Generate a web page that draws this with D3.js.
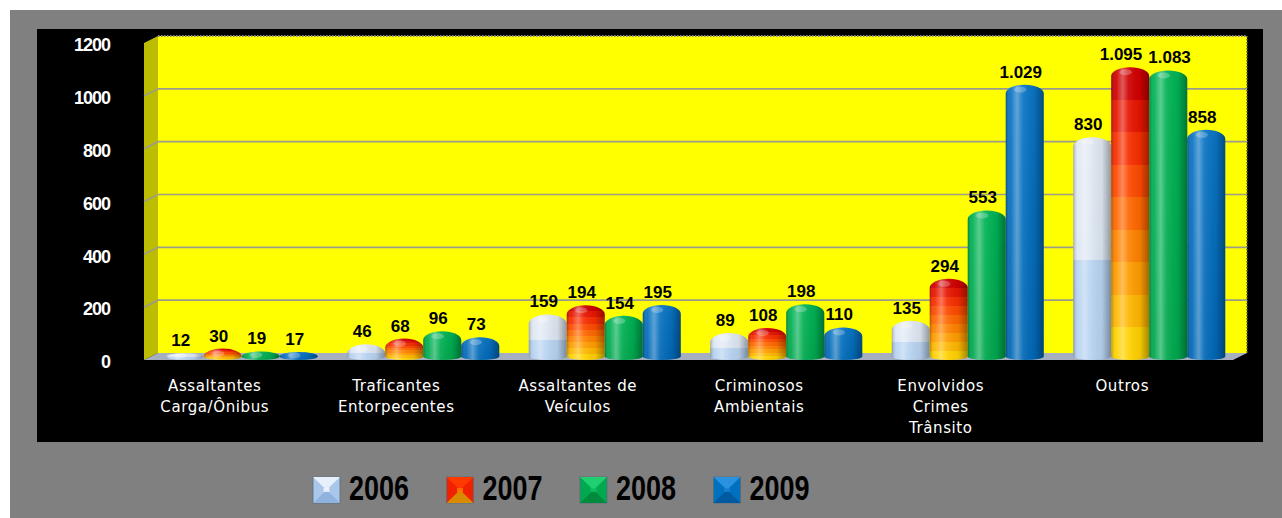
<!DOCTYPE html>
<html>
<head>
<meta charset="utf-8">
<script src="https://cdn.jsdelivr.net/npm/d3@7/dist/d3.min.js"></script>
<style>
  html, body { margin: 0; padding: 0; background: #ffffff; }
  svg { display: block; }
</style>
</head>
<body>
<svg id="chart" width="1282" height="518"></svg>
<script>
// Categories (line breaks mark the wrapped axis labels)
const categories = [
  "Assaltantes\nCarga/Ônibus",
  "Traficantes\nEntorpecentes",
  "Assaltantes de\nVeículos",
  "Criminosos\nAmbientais",
  "Envolvidos\nCrimes\nTrânsito",
  "Outros"
];
const years = ["2006", "2007", "2008", "2009"];
const values2006 = [12, 46, 159, 89, 135, 830];
const values2007 = [30, 68, 194, 108, 294, 1095];
const values2008 = [19, 96, 154, 198, 553, 1083];
const values2009 = [17, 73, 195, 110, 1029, 858];
const yTicks = [0, 200, 400, 600, 800, 1000, 1200];

const seriesValues = [values2006, values2007, values2008, values2009];

const svg = d3.select("#chart");
const W = 1282, H = 518;

// Frame: grey page panel with the black chart panel on top
svg.append("rect").attr("x", 0).attr("y", 0).attr("width", W).attr("height", H).attr("fill", "#ffffff");
svg.append("rect").attr("x", 10).attr("y", 10).attr("width", W - 10).attr("height", H - 10).attr("fill", "#808080");
svg.append("rect").attr("x", 37).attr("y", 29).attr("width", 1226).attr("height", 413).attr("fill", "#000000");

// 3D box geometry: back wall and a depth offset toward the viewer
const back = { left: 158, right: 1247, top: 36, bottom: 353 };
const depth = { dx: -14, dy: 7 };

const yBack = d3.scaleLinear().domain([0, 1200]).range([back.bottom, back.top]);
const yMid = d3.scaleLinear().domain([0, 1200]).range([back.bottom + depth.dy / 2, back.top + depth.dy / 2]);
const yFront = d3.scaleLinear().domain([0, 1200]).range([back.bottom + depth.dy, back.top + depth.dy]);

const x0 = d3.scaleBand()
  .domain(d3.range(categories.length))
  .range([back.left + depth.dx / 2, back.right + depth.dx / 2])
  .paddingInner(0.1625)
  .paddingOuter(0.08125);
const x1 = d3.scaleBand().domain(d3.range(years.length)).range([0, x0.bandwidth()]).padding(0);

const defs = svg.append("defs");

// Vertical colour ramps per series
function vGrad(id, stops) {
  const g = defs.append("linearGradient").attr("id", id)
    .attr("x1", 0).attr("y1", 0).attr("x2", 0).attr("y2", 1);
  stops.forEach(s => g.append("stop").attr("offset", s[0]).attr("stop-color", s[1]));
}
vGrad("fill2006", [[0, "#e2e9f2"], [0.55, "#dde7f3"], [0.55, "#bad4f1"], [1, "#b6d2f1"]]);
// banded red→orange→yellow ramp
(function () {
  const bands = 9;
  const ramp = d3.interpolateRgbBasis(["#d00000", "#ff2a00", "#ff6a00", "#ff9c00", "#ffd200"]);
  const stops = [];
  for (let i = 0; i < bands; i++) {
    const c = ramp(i / (bands - 1));
    stops.push([i / bands, c], [(i + 1) / bands, c]);
  }
  vGrad("fill2007", stops);
})();
vGrad("fill2008", [[0, "#00b455"], [1, "#00a84e"]]);
vGrad("fill2009", [[0, "#0a74c4"], [1, "#0068b6"]]);

// Horizontal cylinder shading overlay
const shade = defs.append("linearGradient").attr("id", "cylShade")
  .attr("x1", 0).attr("y1", 0).attr("x2", 1).attr("y2", 0);
[[0, "#000", 0.28], [0.12, "#fff", 0.05], [0.3, "#fff", 0.35], [0.45, "#fff", 0.08],
 [0.75, "#000", 0.05], [1, "#000", 0.35]].forEach(s =>
  shade.append("stop").attr("offset", s[0]).attr("stop-color", s[1]).attr("stop-opacity", s[2]));

// Side wall and floor
svg.append("polygon")
  .attr("points", [[back.left + depth.dx, back.top + depth.dy], [back.left, back.top],
                   [back.left, back.bottom], [back.left + depth.dx, back.bottom + depth.dy]].join(" "))
  .attr("fill", "#bcbc00");
svg.append("rect")
  .attr("x", back.left).attr("y", back.top)
  .attr("width", back.right - back.left).attr("height", back.bottom - back.top)
  .attr("fill", "#ffff00");
svg.append("line")
  .attr("x1", back.left).attr("x2", back.right).attr("y1", back.top).attr("y2", back.top)
  .attr("stroke", "#8a8a8a").attr("stroke-width", 2).attr("stroke-dasharray", "1.5 1.5");
svg.append("line")
  .attr("x1", back.right).attr("x2", back.right).attr("y1", back.top).attr("y2", back.bottom)
  .attr("stroke", "#6f6f00").attr("stroke-width", 1.5).attr("stroke-dasharray", "1.5 1.5");

// Gridlines across back wall and side wall
const grid = svg.append("g");
yTicks.filter(t => t > 0 && t < 1200).forEach(t => {
  grid.append("polyline")
    .attr("points", [[back.left + depth.dx, yFront(t)], [back.left, yBack(t)], [back.right, yBack(t)]].join(" "))
    .attr("fill", "none").attr("stroke", "#9c9c8c").attr("stroke-width", 1.6);
});

svg.append("polygon")
  .attr("points", [[back.left, back.bottom], [back.right, back.bottom],
                   [back.right + depth.dx, back.bottom + depth.dy], [back.left + depth.dx, back.bottom + depth.dy]].join(" "))
  .attr("fill", "#a6afc0");

// Y axis labels at the front plane
const yAxis = d3.axisLeft(yFront).tickValues(yTicks).tickSize(0).tickPadding(0).tickFormat(d3.format("d"));
const yAxisG = svg.append("g").attr("transform", "translate(110,2)").call(yAxis);
yAxisG.select(".domain").remove();
yAxisG.selectAll("text")
  .attr("fill", "#ffffff")
  .attr("font-family", "'Liberation Sans', Arial, sans-serif")
  .attr("font-weight", "bold")
  .attr("font-size", 18)
  .attr("letter-spacing", -1);

// Cylinder outline path
function cylinder(x, w, yt, yb) {
  const rc = Math.min(9, Math.max(yb - yt, 3));
  const side = Math.max(yb, yt + rc);
  const rb = 3.5;
  return `M${x},${side} L${x},${yt + rc} A${w / 2},${rc} 0 0 1 ${x + w},${yt + rc} ` +
         `L${x + w},${side} A${w / 2},${rb} 0 0 1 ${x},${side} Z`;
}

const ptBR = d3.formatLocale({ decimal: ",", thousands: ".", grouping: [3], currency: ["R$", ""] });
const fmt = ptBR.format(",d");

const bars = [];
categories.forEach((c, ci) => {
  years.forEach((y, si) => {
    bars.push({ ci, si, value: seriesValues[si][ci] });
  });
});

const barG = svg.append("g");
bars.forEach(b => {
  const x = x0(b.ci) + x1(b.si);
  const w = x1.bandwidth();
  const yt = yMid(b.value), yb = yMid(0);
  const d = cylinder(x, w, yt, yb);
  barG.append("path").attr("d", d).attr("fill", `url(#fill${years[b.si]})`);
  barG.append("path").attr("d", d).attr("fill", "url(#cylShade)");
  barG.append("ellipse")
    .attr("cx", x + w * 0.38).attr("cy", yt + Math.min(5, (yb - yt) / 2 + 1))
    .attr("rx", w * 0.16).attr("ry", Math.min(3, (yb - yt) / 2 + 1))
    .attr("fill", "#ffffff").attr("opacity", 0.25);
});

// Value labels, nudged apart where neighbours in a group collide
const labelG = svg.append("g");
categories.forEach((c, ci) => {
  const items = bars.filter(b => b.ci === ci).map(b => {
    const cx = x0(b.ci) + x1(b.si) + x1.bandwidth() / 2 - 4;
    const y = yMid(b.value) - 7;
    const node = labelG.append("text")
      .attr("x", cx).attr("y", y)
      .attr("text-anchor", "middle")
      .attr("font-family", "'Liberation Sans', Arial, sans-serif")
      .attr("font-weight", "bold")
      .attr("font-size", 17)
      .attr("fill", "#000000")
      .text(fmt(b.value));
    const w = node.node().getComputedTextLength();
    return { node, cx, y, w };
  });
  for (let pass = 0; pass < 3; pass++) {
    for (let i = 0; i < items.length - 1; i++) {
      const a = items[i], b = items[i + 1];
      if (Math.abs(a.y - b.y) > 16) continue;
      const gap = (b.cx - b.w / 2) - (a.cx + a.w / 2);
      if (gap < 6) {
        const push = (6 - gap) / 2;
        a.cx -= push; b.cx += push;
      }
    }
  }
  items.forEach(it => it.node.attr("x", it.cx));
});

// Category labels
const catG = svg.append("g");
categories.forEach((c, ci) => {
  const cx = x0(ci) + x0.bandwidth() / 2 - 27;
  const t = catG.append("text")
    .attr("text-anchor", "middle")
    .attr("font-family", "'DejaVu Sans', Verdana, sans-serif")
    .attr("font-size", 15)
    .attr("letter-spacing", 0.6)
    .attr("fill", "#ffffff");
  c.split("\n").forEach((line, li) => {
    t.append("tspan").attr("x", cx).attr("y", 391 + li * 21).text(line);
  });
});

// Legend
const swatchColors = {
  "2006": { top: "#e6f0fb", side: "#a9c7ea", bottom: "#8fb3de", center: "#f4f8fd" },
  "2007": { top: "#ff3a00", side: "#f02000", bottom: "#d88a00", center: "#ff7a00" },
  "2008": { top: "#20d070", side: "#00a850", bottom: "#008a3e", center: "#10c060" },
  "2009": { top: "#2a90e0", side: "#0070c0", bottom: "#005aa0", center: "#1a80d0" }
};
const legend = svg.append("g");
years.forEach((y, i) => {
  const lx = 313 + i * 133.5, ly = 477, s = 27, sh = 26;
  const col = swatchColors[y];
  const g = legend.append("g").attr("transform", `translate(${lx},${ly})`);
  const cxm = s / 2, cym = sh / 2;
  g.append("rect").attr("width", s).attr("height", sh).attr("fill", col.side)
    .attr("stroke", "#5a6a7a").attr("stroke-width", 0.8);
  g.append("polygon").attr("points", `0,0 ${s},0 ${cxm},${cym}`).attr("fill", col.top);
  g.append("polygon").attr("points", `0,${sh} ${s},${sh} ${cxm},${cym}`).attr("fill", col.bottom);
  g.append("rect").attr("x", cxm - 3).attr("y", cym - 2).attr("width", 6).attr("height", 4)
    .attr("fill", col.center).attr("opacity", 0.8);
  legend.append("text")
    .attr("x", lx + 36).attr("y", 500)
    .attr("font-family", "'Liberation Sans', Arial, sans-serif")
    .attr("font-weight", "bold")
    .attr("font-size", 35)
    .attr("textLength", 60)
    .attr("lengthAdjust", "spacingAndGlyphs")
    .attr("fill", "#000000")
    .text(y);
});
</script>
</body>
</html>
